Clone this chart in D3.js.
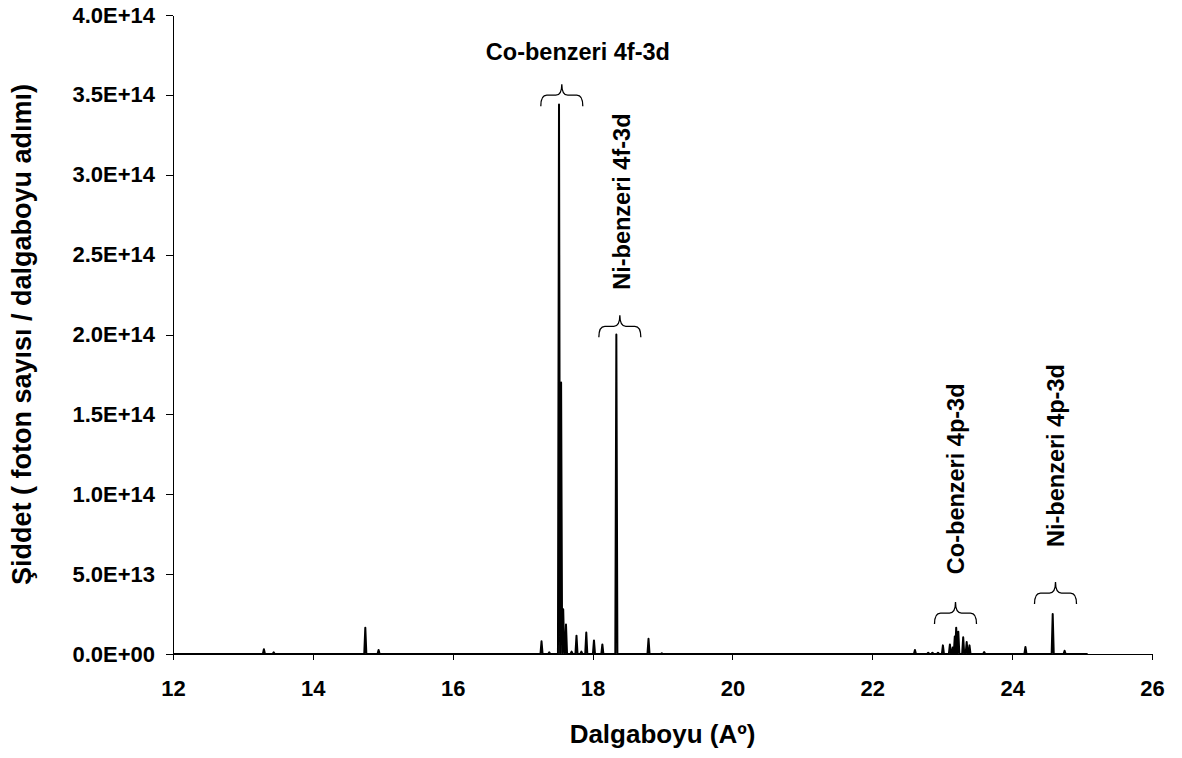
<!DOCTYPE html>
<meta charset="utf-8">
<style>
    body { margin: 0; background: #fff; }
    text { font-family: "Liberation Sans", Arial, sans-serif; font-weight: bold; fill: #000; }
    .axis path, .axis line { stroke: #000; stroke-width: 1px; shape-rendering: crispEdges; }
    .axis text { font-size: 22px; }
    .spectrum { fill: none; stroke: #000; stroke-width: 2px; stroke-linejoin: round; }
    .brace { fill: none; stroke: #000; stroke-width: 1.3px; }
</style>
<body>
<script src="https://d3js.org/d3.v7.min.js"></script>
<script>
// peak positions (A) and heights
var peakX = [13.30, 13.44, 14.75, 14.94, 17.27, 17.38, 17.52, 17.55, 17.58, 17.62, 17.70, 17.77, 17.84, 17.91,
             18.02, 18.14, 18.34, 18.80, 18.99, 22.61, 22.80, 22.86, 22.94, 23.01, 23.11, 23.15, 23.18, 23.20,
             23.23, 23.30, 23.35, 23.39, 23.60, 24.19, 24.58, 24.75];
var peakY = [3.0e12, 1.0e12, 1.65e13, 2.5e12, 8.0e12, 1.0e12, 3.44e14, 1.7e14, 2.8e13, 1.85e13, 1.5e12, 1.15e13, 1.5e12, 1.35e13,
             8.5e12, 6.0e12, 2.0e14, 9.5e12, 0.5e12, 2.5e12, 0.8e12, 0.8e12, 0.8e12, 5.4e12, 6.0e12, 4.0e12, 1.1e13, 1.65e13,
             1.4e13, 1.05e13, 7.5e12, 5.4e12, 1.2e12, 4.4e12, 2.5e13, 2.0e12];
var spectrumStart = 12.0, spectrumEnd = 25.08;

var xTicks = [12, 14, 16, 18, 20, 22, 24, 26];
var yTicks = [0, 5e13, 1e14, 1.5e14, 2e14, 2.5e14, 3e14, 3.5e14, 4e14];

// group labels: brace centre (A), brace top (intensity), label anchor
var groupNames  = ["Co-benzeri 4f-3d", "Ni-benzeri 4f-3d", "Co-benzeri 4p-3d", "Ni-benzeri 4p-3d"];
var braceX      = [17.56, 18.39, 23.19, 24.62];
var braceTop    = [3.567e14, 2.12e14, 3.25e13, 4.5e13];
var labelX      = [17.79, 18.42, 23.19, 24.63];
var labelY      = [3.77e14, 2.28e14, 5.0e13, 6.7e13];
var labelUpright = [true, false, false, false];

var W = 1182, H = 758;
var margin = {top: 15, right: 30, bottom: 104, left: 173};
var w = W - margin.left - margin.right, h = H - margin.top - margin.bottom;

var svg = d3.select("body").append("svg").attr("width", W).attr("height", H);
var g = svg.append("g").attr("transform", "translate(" + margin.left + "," + margin.top + ")");

var x = d3.scaleLinear().domain([12, 26]).range([0, w]);
var y = d3.scaleLinear().domain([0, 4e14]).range([h, 0]);

g.append("g").attr("class", "axis")
    .attr("transform", "translate(0," + h + ")")
    .call(d3.axisBottom(x).tickValues(xTicks).tickSize(6).tickSizeOuter(0).tickPadding(20).tickFormat(d3.format("d")));

g.append("g").attr("class", "axis")
    .call(d3.axisLeft(y).tickValues(yTicks).tickSize(7).tickSizeOuter(0).tickPadding(11)
        .tickFormat(function(d) { return d.toExponential(1).toUpperCase().replace(/E([+-])(\d)$/, "E$10$2"); }));

// spectrum line: baseline with narrow spikes
var pts = [[spectrumStart, 0]];
var dw = 0.015;
peakX.forEach(function(px, i) {
    pts.push([px - dw, 0], [px, peakY[i]], [px + dw, 0]);
});
pts.push([spectrumEnd, 0]);

g.append("path").attr("class", "spectrum")
    .attr("d", d3.line().x(d => x(d[0])).y(d => y(d[1]))(pts));

// braces
function bracePath(cx, top) {
    var half = 21, r = 6, mid = top + 11, bot = top + 22;
    return "M" + (cx - half) + "," + bot +
        "Q" + (cx - half) + "," + mid + " " + (cx - half + r) + "," + mid +
        "L" + (cx - r) + "," + mid +
        "Q" + cx + "," + mid + " " + cx + "," + top +
        "Q" + cx + "," + mid + " " + (cx + r) + "," + mid +
        "L" + (cx + half - r) + "," + mid +
        "Q" + (cx + half) + "," + mid + " " + (cx + half) + "," + bot;
}

groupNames.forEach(function(name, i) {
    g.append("path").attr("class", "brace").attr("d", bracePath(x(braceX[i]), y(braceTop[i])));
    var t = g.append("text").style("font-size", "23.5px").text(name);
    if (labelUpright[i]) {
        t.attr("x", x(labelX[i])).attr("y", y(labelY[i])).attr("dy", "0.35em").attr("text-anchor", "middle");
    } else {
        t.attr("transform", "translate(" + x(labelX[i]) + "," + y(labelY[i]) + ") rotate(-90)")
            .attr("dy", "0.35em").attr("text-anchor", "start");
    }
});

// axis titles
svg.append("text")
    .attr("x", margin.left + w / 2).attr("y", 743)
    .attr("text-anchor", "middle").style("font-size", "26px")
    .text("Dalgaboyu (Aº)");

svg.append("text")
    .attr("transform", "translate(22," + (margin.top + h / 2) + ") rotate(-90)")
    .attr("dy", "0.35em").attr("text-anchor", "middle").style("font-size", "27px")
    .text("Şiddet ( foton sayısı / dalgaboyu adımı)");
</script>
</body>
